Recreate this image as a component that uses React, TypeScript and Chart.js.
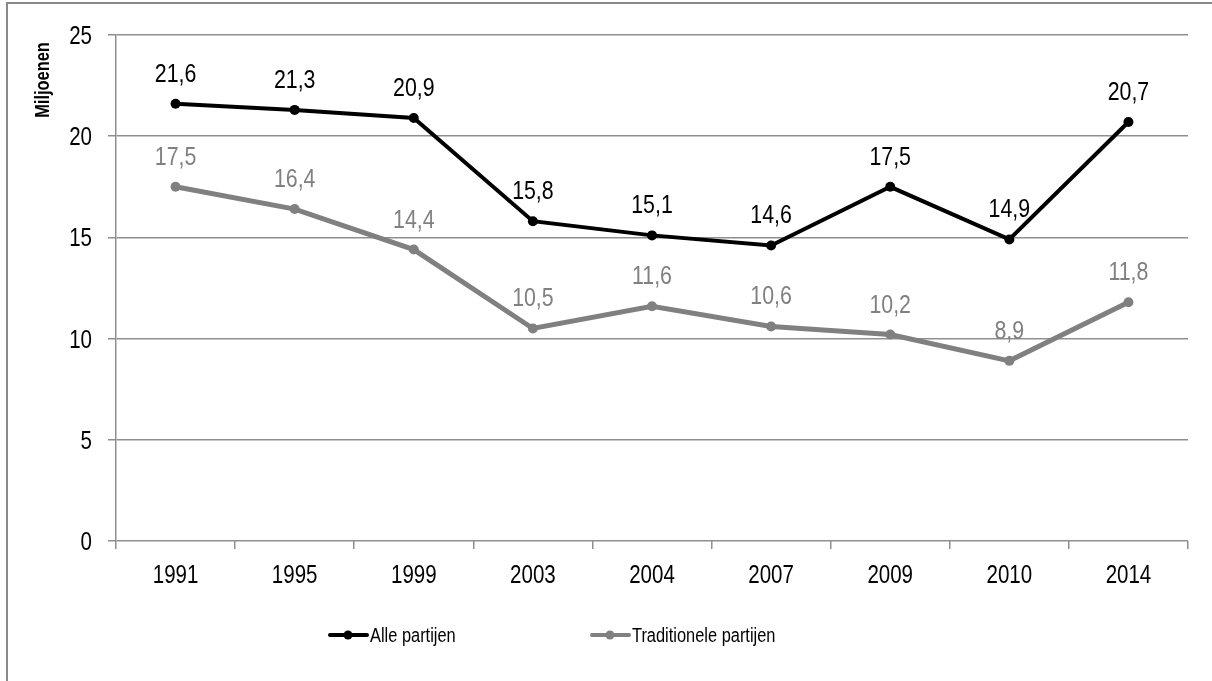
import React, { useEffect, useRef } from "react";
import { Chart, registerables } from "chart.js";

Chart.register(...registerables);

const years = ["1991", "1995", "1999", "2003", "2004", "2007", "2009", "2010", "2014"];
const alleValues = [21.6, 21.3, 20.9, 15.8, 15.1, 14.6, 17.5, 14.9, 20.7];
const tradValues = [17.5, 16.4, 14.4, 10.5, 11.6, 10.6, 10.2, 8.9, 11.8];
const seriesNames = ["Alle partijen", "Traditionele partijen"];
const yTicks = [0, 5, 10, 15, 20, 25];
const yTitle = "Miljoenen";

const FONT = "'Liberation Sans', Arial, sans-serif";
const NARROW = 0.82;
const BLACK = "#000000";
const GREY = "#808080";
const GRID = "#8f8f8f";

function narrowText(ctx: any, text: string, x: number, y: number, align: string, font: string, color: string, rotate = 0) {
  ctx.save();
  ctx.font = font;
  ctx.fillStyle = color;
  ctx.textAlign = align;
  ctx.textBaseline = "alphabetic";
  ctx.translate(x, y);
  if (rotate) ctx.rotate(rotate);
  ctx.scale(NARROW, 1);
  ctx.fillText(text, 0, 0);
  ctx.restore();
}

const labelPlugin = {
  id: "valueLabels",
  afterDatasetsDraw(chart: any) {
    const ctx = chart.ctx;
    chart.data.datasets.forEach((ds: any, i: number) => {
      const meta = chart.getDatasetMeta(i);
      meta.data.forEach((pt: any, j: number) => {
        const v = ds.data[j];
        narrowText(ctx, String(v).replace(".", ","), pt.x, pt.y - 22, "center", `26px ${FONT}`, ds.borderColor);
      });
    });
  },
};

const extrasPlugin = {
  id: "extras",
  afterDraw(chart: any) {
    const ctx = chart.ctx;
    const xs = chart.scales.x;
    const ys = chart.scales.y;
    // x tick labels
    years.forEach((lab, i) => {
      narrowText(ctx, lab, xs.getPixelForValue(i), ys.bottom + 42, "center", `25px ${FONT}`, BLACK);
    });
    // y tick labels
    yTicks.forEach((v) => {
      narrowText(ctx, String(v), ys.right - 24, ys.getPixelForValue(v) + 9, "right", `25px ${FONT}`, BLACK);
    });
    // y axis title
    narrowText(ctx, yTitle, 49, 80, "center", `bold 20px ${FONT}`, BLACK, -Math.PI / 2);

    // legend
    const items = [
      { x: 328, ds: chart.data.datasets[0] },
      { x: 590, ds: chart.data.datasets[1] },
    ];
    const y = 635;
    items.forEach((it) => {
      ctx.save();
      ctx.strokeStyle = it.ds.borderColor;
      ctx.lineWidth = 4;
      ctx.lineCap = "round";
      ctx.beginPath();
      ctx.moveTo(it.x + 2, y);
      ctx.lineTo(it.x + 39, y);
      ctx.stroke();
      ctx.fillStyle = it.ds.borderColor;
      ctx.beginPath();
      ctx.arc(it.x + 20, y, 4.5, 0, Math.PI * 2);
      ctx.fill();
      ctx.restore();
      narrowText(ctx, it.ds.label, it.x + 42, y + 7, "left", `20px ${FONT}`, BLACK);
    });
  },
};

export default function App() {
  const ref = useRef<HTMLCanvasElement>(null);
  useEffect(() => {
    if (!ref.current) return;
    const chart = new Chart(ref.current, {
      type: "line",
      data: {
        labels: years,
        datasets: [
          {
            label: seriesNames[0],
            data: alleValues,
            borderColor: BLACK,
            backgroundColor: BLACK,
            borderWidth: 4,
            pointRadius: 5,
            pointBorderWidth: 0,
            pointBackgroundColor: BLACK,
            tension: 0,
          },
          {
            label: seriesNames[1],
            data: tradValues,
            borderColor: GREY,
            backgroundColor: GREY,
            borderWidth: 5,
            pointRadius: 5,
            pointBorderWidth: 0,
            pointBackgroundColor: GREY,
            tension: 0,
          },
        ],
      },
      options: {
        animation: false,
        responsive: false,
        layout: { padding: { left: 0, right: 24, top: 35, bottom: 0 } },
        plugins: {
          legend: { display: false },
          tooltip: { enabled: false },
          title: { display: false },
        },
        scales: {
          x: {
            offset: true,
            grid: {
              offset: true,
              drawOnChartArea: false,
              drawTicks: true,
              tickLength: 8,
              color: GRID,
              lineWidth: 1.5,
            },
            border: { display: false },
            ticks: {
              color: "rgba(0,0,0,0)",
              font: { family: FONT, size: 25 },
              padding: 10,
              maxRotation: 0,
              autoSkip: false,
            },
            afterFit(scale: any) {
              scale.height = 140;
            },
          },
          y: {
            min: 0,
            max: 25,
            grid: {
              color: GRID,
              lineWidth: 1.5,
              tickLength: 8,
            },
            border: { display: true, color: GRID, width: 1.5 },
            ticks: {
              stepSize: 5,
              color: "rgba(0,0,0,0)",
              font: { family: FONT, size: 25 },
              padding: 14,
            },
            afterFit(scale: any) {
              scale.width = 116;
            },
          },
        },
      },
      plugins: [labelPlugin, extrasPlugin],
    });
    return () => chart.destroy();
  }, []);

  return (
    <div style={{ position: "absolute", left: 0, top: 0, width: 1212, height: 681, overflow: "hidden", background: "#fff" }}>
      <div
        style={{
          position: "absolute",
          left: 6,
          top: 2,
          width: 1240,
          height: 720,
          border: "2px solid #8a8a8a",
          boxSizing: "border-box",
        }}
      />
      <canvas ref={ref} width={1212} height={681} style={{ position: "absolute", left: 0, top: 0 }} />
    </div>
  );
}
